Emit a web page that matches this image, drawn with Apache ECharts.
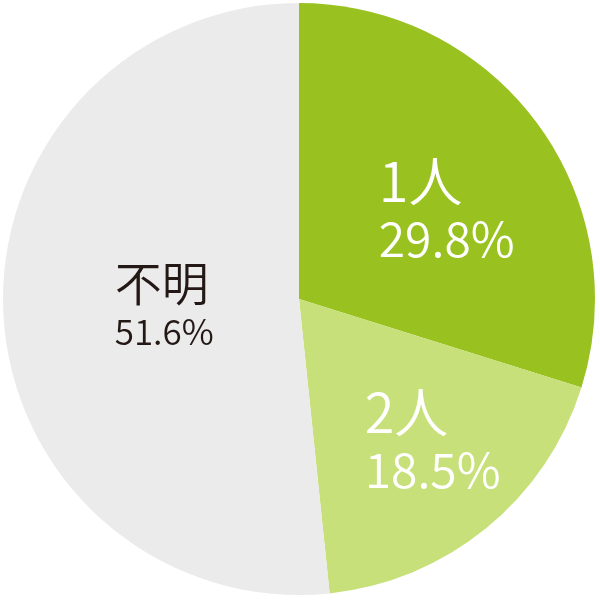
<!DOCTYPE html>
<html>
	<head>
		<meta charset="utf-8">
		<title>ECharts</title>
		<script src="https://cdn.jsdelivr.net/npm/echarts@6/dist/echarts.min.js"></script>
		<style>
			html, body { margin: 0; padding: 0; background: #fff; }
		</style>
	</head>
	<body>
		<div id="main" style="width: 600px;height: 600px;"></div>
		<script type="text/javascript">
			// 世帯人数の割合
			var categories = ['1人', '2人', '不明'];
			var values = [29.8, 18.5, 51.6];
			var colors = ['#99c221', '#c8e07a', '#ebebeb'];
			var labelColors = ['#ffffff', '#ffffff', '#231815'];

			// ラベルのずらし量（見た目の調整用）
			var labelShift = [[26, -1], [38, 24], [16, -3]];

			var myChart = echarts.init(document.getElementById('main'));

			var pieData = categories.map(function (name, i) {
				var big = i < 2;
				return {
					name: name,
					value: values[i],
					itemStyle: { color: colors[i] },
					label: {
						color: labelColors[i],
						formatter: big ? '{a|{b}}\n{b|{c}%}' : '{c|{b}}\n{d|{c}%}'
					}
				};
			});

			var option = {
				animation: false,
				series: [{
					type: 'pie',
					center: [299, 299],
					radius: [0, 296],
					startAngle: 90,
					clockwise: true,
					silent: true,
					data: pieData,
					label: {
						show: true,
						position: 'inside',
						fontFamily: 'Noto Sans CJK JP',
						fontWeight: 350,
						rich: {
							a: { fontSize: 54, lineHeight: 60, align: 'left', fontWeight: 350, fontFamily: 'Noto Sans CJK JP' },
							b: { fontSize: 48, lineHeight: 54, align: 'left', fontWeight: 350, fontFamily: 'Noto Sans CJK JP' },
							c: { fontSize: 47, lineHeight: 56, align: 'left', fontWeight: 350, fontFamily: 'Noto Sans CJK JP' },
							d: { fontSize: 35, lineHeight: 42, align: 'left', fontWeight: 350, fontFamily: 'Noto Sans CJK JP' }
						}
					},
					labelLine: { show: false },
					labelLayout: function (params) {
						var s = labelShift[params.dataIndex];
						return { dx: s[0], dy: s[1] };
					}
				}]
			};

			myChart.setOption(option);
		</script>
	</body>
</html>
